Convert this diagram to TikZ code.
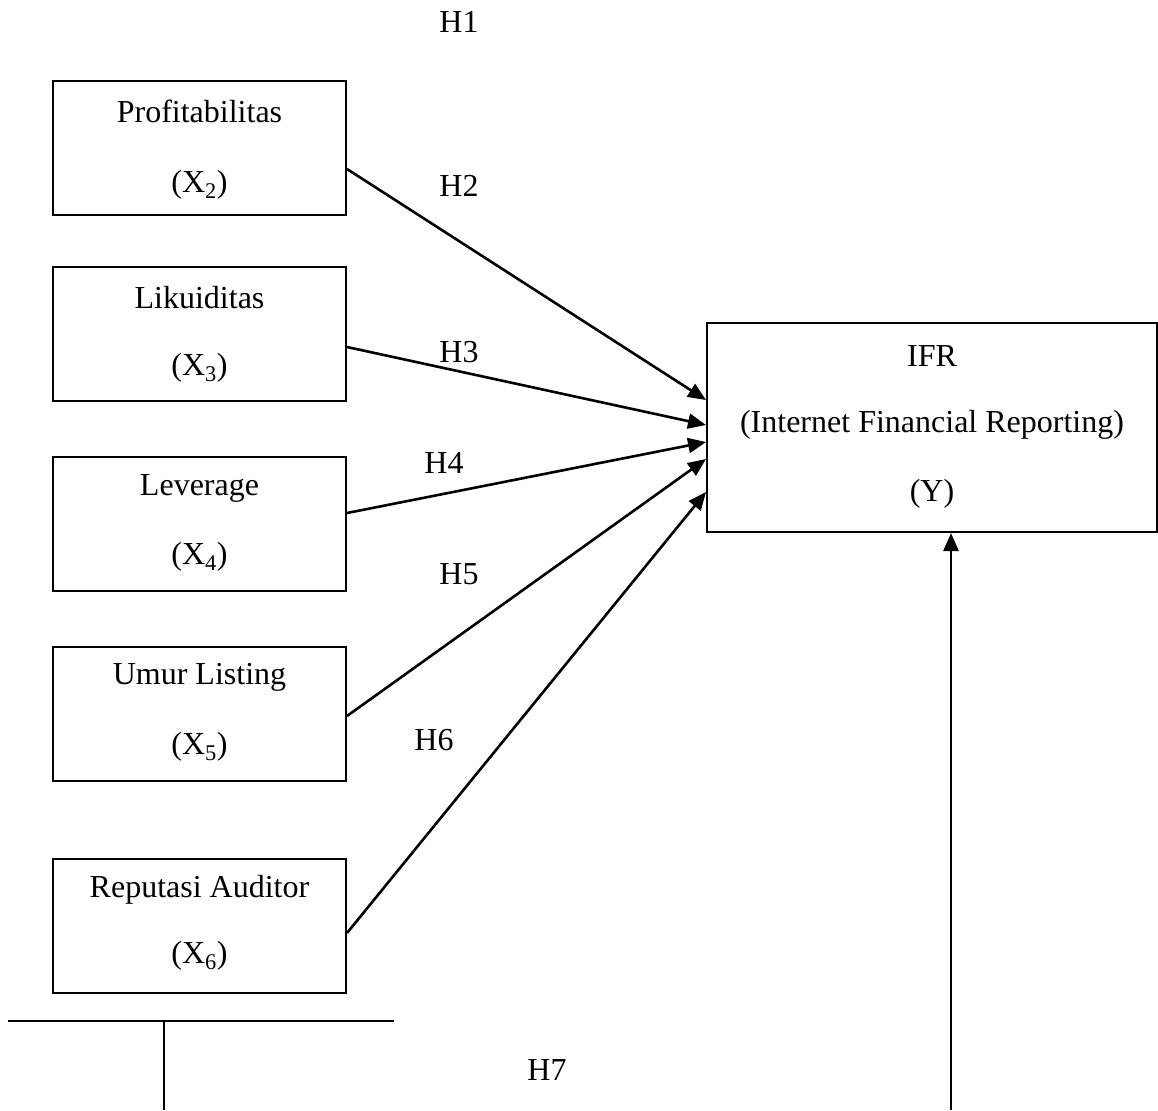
\documentclass[tikz,border=0pt]{standalone}
\usepackage{fontspec}
\setmainfont{Liberation Serif}
\usetikzlibrary{arrows.meta}
\begin{document}
\begin{tikzpicture}[x=1pt,y=-1pt,
  box/.style={draw,line width=2pt,minimum width=293pt,minimum height=134pt,inner sep=0pt},
  txt/.style={font=\fontsize{32}{38}\selectfont,inner sep=0pt,anchor=center},
  conn/.style={line width=2.6pt,-{Triangle[length=18pt,width=15pt]}},
  plain/.style={line width=2pt}]
\useasboundingbox (0,0) rectangle (1158,1110);
% boxes
\node[box] (b1) at (199.5,148) {};
\node[box] (b2) at (199.5,333.5) {};
\node[box] (b3) at (199.5,524) {};
\node[box] (b4) at (199.5,713.5) {};
\node[box] (b5) at (199.5,925.5) {};
\node[box,minimum width=450pt,minimum height=209pt] (ifr) at (932,427.5) {};
% box texts
\node[txt] (t1a) at (199.5,111) {Profitabilitas};
\node[txt] (t1b) at (199.5,185) {(X\textsubscript{2})};
\node[txt] (t2a) at (199.5,298) {Likuiditas};
\node[txt] (t2b) at (199.5,368) {(X\textsubscript{3})};
\node[txt] (t3a) at (199.5,488) {Leverage};
\node[txt] (t3b) at (199.5,557) {(X\textsubscript{4})};
\node[txt] (t4a) at (199.5,677) {Umur Listing};
\node[txt] (t4b) at (199.5,747) {(X\textsubscript{5})};
\node[txt] (t5a) at (199.5,890) {Reputasi Auditor};
\node[txt] (t5b) at (199.5,956) {(X\textsubscript{6})};
\node[txt] (ta) at (932,356) {IFR};
\node[txt] (tb) at (932,425) {(Internet Financial Reporting)};
\node[txt] (tc) at (932,494) {(Y)};
% hypothesis labels
\node[txt] (h1) at (459,22) {H1};
\node[txt] (h2) at (459,186) {H2};
\node[txt] (h3) at (459,352) {H3};
\node[txt] (h4) at (444,463) {H4};
\node[txt] (h5) at (459,574) {H5};
\node[txt] (h6) at (434,740) {H6};
\node[txt] (h7) at (547,1070) {H7};
% connectors
\draw[conn] ([yshift=-21pt]b1.east) -- ([yshift=27.5pt]ifr.west);
\draw[conn] ([yshift=-13.5pt]b2.east) -- ([yshift=2.5pt]ifr.west);
\draw[conn] ([yshift=11pt]b3.east) -- ([yshift=-14.5pt]ifr.west);
\draw[conn] ([yshift=-2.5pt]b4.east) -- ([yshift=-31.5pt]ifr.west);
\draw[conn] ([yshift=-7.5pt]b5.east) -- ([yshift=-64.5pt]ifr.west);
% bottom lines
\coordinate (la) at (8,1021);
\coordinate (lb) at (394,1021);
\coordinate (lc) at (164,1021);
\coordinate (ld) at (164,1110);
\coordinate (ya) at (951,1110);
\draw[plain] (la) -- (lb);
\draw[line width=1.2pt] (lc) -- (ld);
\draw[conn] (ya) -- (ya |- ifr.south);
\end{tikzpicture}
\end{document}
